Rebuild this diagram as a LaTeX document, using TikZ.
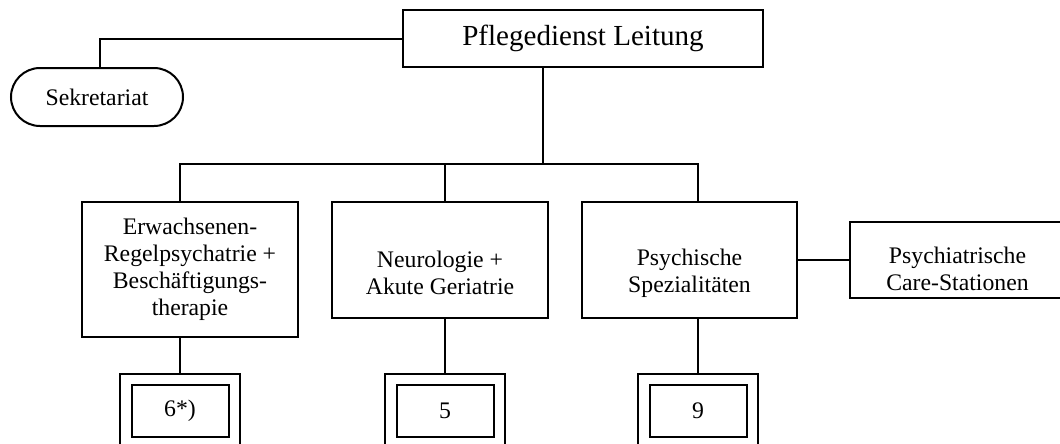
\documentclass[tikz,border=0pt]{standalone}
\usepackage{fontspec}
\setmainfont{Liberation Serif}
\usepackage{tikz}
\usetikzlibrary{positioning}
\tikzset{
	unit/.style={draw, line width=1.5pt, inner sep=0pt, align=center, font=\fontsize{17.8}{20.3}\selectfont},
	lbl/.style={inner sep=0pt, align=center, font=\fontsize{17.8}{20.3}\selectfont},
	frame/.style={draw, line width=1.5pt, inner sep=0pt, minimum width=90pt, minimum height=55.5pt},
	zahl/.style={unit, minimum width=72.75pt, minimum height=39pt},
	link/.style={line width=1.5pt}
}

\begin{document}
\begin{tikzpicture}[x=0.75pt,y=-0.75pt]
			\useasboundingbox (0,0) rectangle (1060,443);
			\clip (0,0) rectangle (1060,443);
			\node [unit, minimum width=270pt, minimum height=42.75pt, font=\fontsize{21.8}{26}\selectfont] (leitung) at (583,38.5) {Pflegedienst Leitung};
			\node [unit, minimum width=129pt, minimum height=43.5pt, rounded corners=21.75pt] (sekretariat) at (97,97) {Sekretariat};
			\node [unit, minimum width=162pt, minimum height=101.25pt] (erwachsene) at (190,269.5) {Erwachsenen-\\Regelpsychatrie +\\Beschäftigungs-\\therapie};
			\node [unit, minimum width=162pt, minimum height=87pt, label={[lbl, yshift=-10pt]center:Neurologie +\\Akute Geriatrie}] (neuro) at (440,260) {};
			\node [unit, minimum width=161.25pt, minimum height=87pt, label={[lbl, yshift=-10pt]center:Psychische\\Spezialitäten}] (psych) at (689.5,260) {};
			\node [unit, minimum width=161.25pt, minimum height=57pt, label={[lbl, yshift=-6.5pt]center:Psychiatrische\\Care-Stationen}] (care) at (957.5,260) {};
			\node [frame] (frameA) at (180,411) {};
			\node [frame] (frameB) at (445,411) {};
			\node [frame] (frameC) at (698,411) {};
			\node [zahl] (zahlA) at (frameA) {6*)};
			\node [zahl] (zahlB) at (frameB) {5};
			\node [zahl] (zahlC) at (frameC) {9};
			\coordinate (hub) at (543,164);
			\draw [link] (leitung.south -| hub) -- (hub);
			\draw [link] (frameA |- erwachsene.north) -- (frameA |- hub) -- (frameC |- hub) -- (frameC |- psych.north);
			\draw [link] (frameB |- hub) -- (frameB |- neuro.north);
			\draw [link] (leitung.west) -| ([xshift=2.25pt]sekretariat.north);
			\draw [link] (psych.east) -- (care.west);
			\draw [link] (frameA |- erwachsene.south) -- (frameA.north);
			\draw [link] (frameB |- neuro.south) -- (frameB.north);
			\draw [link] (frameC |- psych.south) -- (frameC.north);
		\end{tikzpicture}
\end{document}
